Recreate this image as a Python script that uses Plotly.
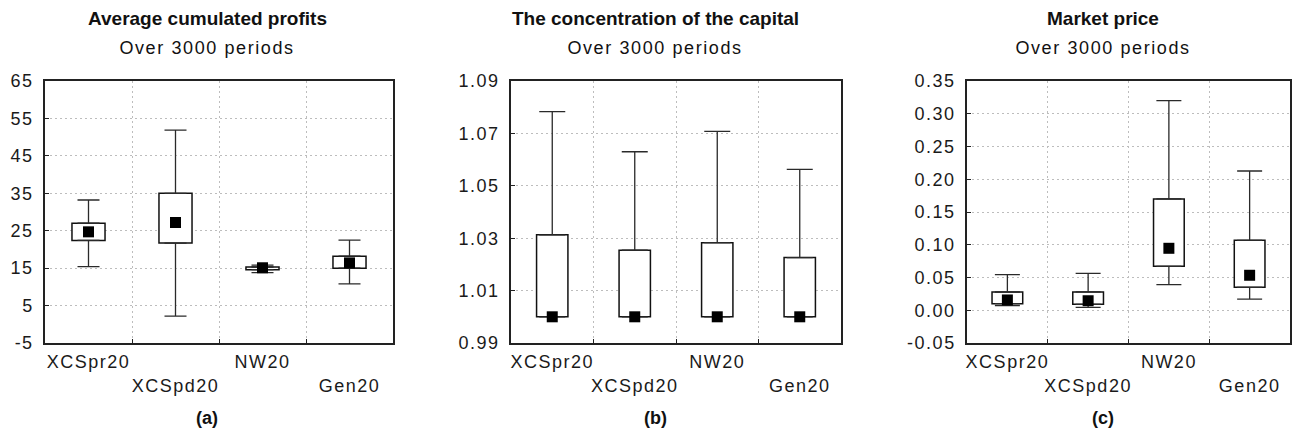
import plotly.graph_objects as go

# ---------------- data ----------------
categories = ["XCSpr20", "XCSpd20", "NW20", "Gen20"]

profits_min = [15.4, 2.2, 13.8, 10.8]
profits_q1 = [22.4, 21.7, 14.6, 15.0]
profits_median = [24.7, 27.2, 15.1, 16.4]
profits_q3 = [27.0, 35.0, 15.3, 18.2]
profits_max = [33.2, 51.9, 15.8, 22.5]

capital_min = [1.000, 1.000, 1.000, 1.000]
capital_q1 = [1.000, 1.000, 1.000, 1.000]
capital_median = [1.000, 1.000, 1.000, 1.000]
capital_q3 = [1.0313, 1.0254, 1.0283, 1.0226]
capital_max = [1.0783, 1.0630, 1.0708, 1.0563]

price_min = [0.0070, 0.0045, 0.039, 0.017]
price_q1 = [0.0100, 0.0090, 0.067, 0.035]
price_median = [0.0157, 0.0145, 0.0946, 0.0534]
price_q3 = [0.0279, 0.0280, 0.170, 0.1068]
price_max = [0.0543, 0.0563, 0.320, 0.2126]

titles = ["Average cumulated profits", "The concentration of the capital", "Market price"]
subtitle = "Over 3000 periods"
panel_labels = ["(a)", "(b)", "(c)"]

y_ticks_profits = [-5, 5, 15, 25, 35, 45, 55, 65]
y_ticks_capital = [0.99, 1.01, 1.03, 1.05, 1.07, 1.09]
y_ticks_price = [-0.05, 0.00, 0.05, 0.10, 0.15, 0.20, 0.25, 0.30, 0.35]

# ---------------- layout constants ----------------
W, H = 1301, 434
FONT = "Liberation Sans, Arial, Helvetica, sans-serif"
x_domains = [(45 / W, 393 / W), (511 / W, 841 / W), (967 / W, 1290 / W)]
y_domain = ((H - 343) / H, (H - 81) / H)
title_x = [207 / W, 655 / W, 1103 / W]
cap_half = [11, 13, 12.5]

panels = [
    (profits_min, profits_q1, profits_median, profits_q3, profits_max, y_ticks_profits, "{:g}"),
    (capital_min, capital_q1, capital_median, capital_q3, capital_max, y_ticks_capital, "{:.2f}"),
    (price_min, price_q1, price_median, price_q3, price_max, y_ticks_price, "{:.2f}"),
]

ticktext = [c if i % 2 == 0 else "<br>" + c for i, c in enumerate(categories)]

fig = go.Figure()

for k, (vmin, q1, med, q3, vmax, yticks, fmt) in enumerate(panels):
    xa = "x" if k == 0 else f"x{k + 1}"
    ya = "y" if k == 0 else f"y{k + 1}"
    # box (q1 -> q3)
    fig.add_trace(go.Bar(
        x=categories, y=[b - a for a, b in zip(q1, q3)], base=q1,
        width=0.38, marker=dict(color="white", line=dict(color="#111", width=1.5)),
        xaxis=xa, yaxis=ya, showlegend=False, hoverinfo="skip",
    ))
    # upper whisker (q3 -> max)
    fig.add_trace(go.Scatter(
        x=categories, y=q3, mode="markers", marker=dict(size=1, color="rgba(0,0,0,0)"),
        error_y=dict(type="data", symmetric=False,
                     array=[b - a for a, b in zip(q3, vmax)],
                     arrayminus=[0] * len(q3),
                     color="#2a2a2a", thickness=1.3, width=cap_half[k]),
        xaxis=xa, yaxis=ya, showlegend=False, hoverinfo="skip",
    ))
    # lower whisker (q1 -> min)
    fig.add_trace(go.Scatter(
        x=categories, y=q1, mode="markers", marker=dict(size=1, color="rgba(0,0,0,0)"),
        error_y=dict(type="data", symmetric=False,
                     array=[0] * len(q1),
                     arrayminus=[a - b for a, b in zip(q1, vmin)],
                     color="#2a2a2a", thickness=1.3, width=cap_half[k]),
        xaxis=xa, yaxis=ya, showlegend=False, hoverinfo="skip",
    ))
    # median marker
    fig.add_trace(go.Scatter(
        x=categories, y=med, mode="markers",
        marker=dict(symbol="square", size=11, color="black", line=dict(width=0)),
        xaxis=xa, yaxis=ya, showlegend=False, hoverinfo="skip",
    ))

    axis_common = dict(
        showline=True, mirror=True, linecolor="#222", linewidth=1.5,
        showgrid=True, gridcolor="#bdbdbd", griddash="2px,3px", gridwidth=1,
        ticks="inside", ticklen=4, tickcolor="#222", tickwidth=1,
        zeroline=False, automargin=False, tickangle=0,
        tickfont=dict(family=FONT, size=18, color="#1a1a1a"),
    )
    fig.update_layout({
        ("xaxis" if k == 0 else f"xaxis{k + 1}"): dict(
            axis_common, type="category", domain=x_domains[k], anchor=ya,
            categoryorder="array", categoryarray=categories,
            tickmode="array", tickvals=categories, ticktext=ticktext,
            tickson="boundaries", range=[-0.5, 3.5], ticklabelstandoff=2,
        ),
        ("yaxis" if k == 0 else f"yaxis{k + 1}"): dict(
            axis_common, domain=y_domain, anchor=xa,
            range=[yticks[0], yticks[-1]], tickmode="array", tickvals=yticks,
            ticktext=[fmt.format(v) for v in yticks], ticklabelstandoff=6,
        ),
    })

    fig.add_annotation(text=f"<b>{titles[k]}</b>", x=title_x[k], y=1 - 19 / H,
                       xref="paper", yref="paper", showarrow=False,
                       xanchor="center", yanchor="middle",
                       font=dict(family=FONT, size=19, color="#111"))
    fig.add_annotation(text=subtitle, x=title_x[k], y=1 - 48 / H,
                       xref="paper", yref="paper", showarrow=False,
                       xanchor="center", yanchor="middle",
                       font=dict(family=FONT, size=18, color="#111"))
    fig.add_annotation(text=f"<b>{panel_labels[k]}</b>", x=title_x[k], y=1 - 418 / H,
                       xref="paper", yref="paper", showarrow=False,
                       xanchor="center", yanchor="middle",
                       font=dict(family=FONT, size=18, color="#111"))

fig.update_layout(
    template="none",
    width=W, height=H,
    margin=dict(l=0, r=0, t=0, b=0, pad=0),
    paper_bgcolor="white", plot_bgcolor="white",
    barmode="overlay", showlegend=False,
    font=dict(family=FONT),
)

# page without body margin; wider letter spacing of tick labels and subtitles, as in the original
css = (
    "body { margin: 0; } "
    ".xaxislayer-above text, .yaxislayer-above text { letter-spacing: 1.5px; } "
    ".annotation[data-index='1'] text, .annotation[data-index='4'] text, "
    ".annotation[data-index='7'] text { letter-spacing: 1.6px; }"
)
post = "var s=document.createElement('style');s.textContent=\"" + css + "\";document.head.appendChild(s);"

fig.write_html("out.html", post_script=post, config={"displayModeBar": False})
